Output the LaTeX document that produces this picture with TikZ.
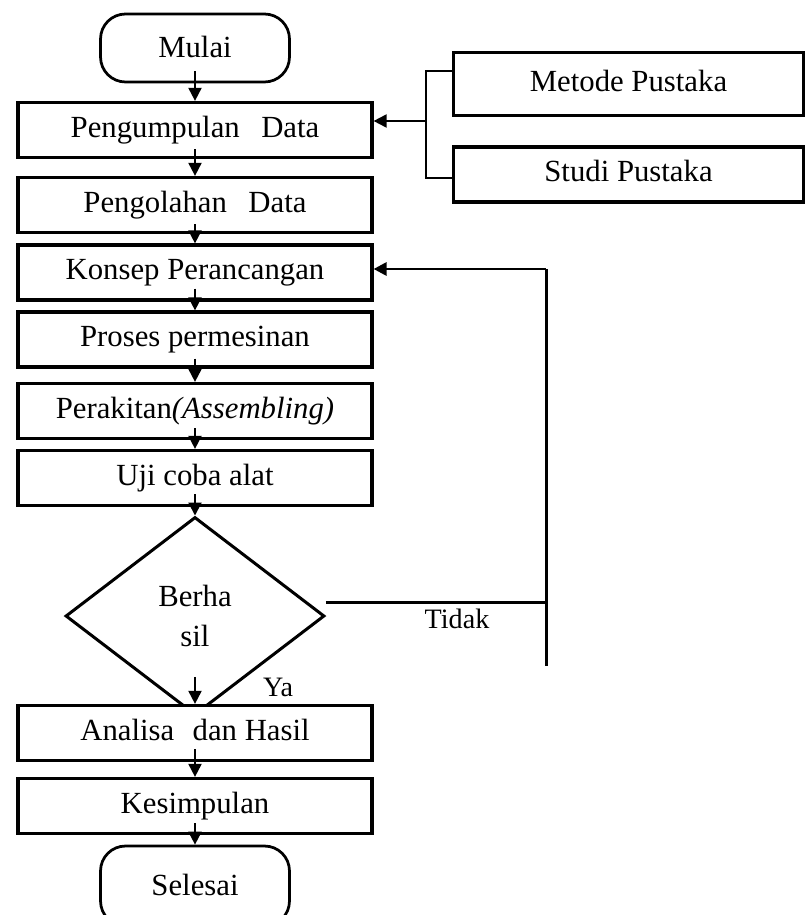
\documentclass[tikz,border=0pt]{standalone}
\usepackage{fontspec}
\setmainfont{Liberation Serif}
\usetikzlibrary{shapes.geometric,arrows.meta}

\begin{document}
\begin{tikzpicture}[x=0.02cm,y=-0.02cm,
    font=\fontsize{17.5}{23.3}\selectfont,
    box/.style={draw,fill=white,line width=0.065cm,inner sep=0pt,
      minimum width=7.08cm,minimum height=1.1cm,text height=0.8em,text depth=0pt},
    sidebox/.style={box,minimum width=7cm},
    terminal/.style={draw,fill=white,line width=0.055cm,rounded corners=0.5cm,
      minimum width=3.78cm,minimum height=1.36cm,text height=1.05em,text depth=0pt},
    decision/.style={draw,diamond,line width=0.06cm,inner sep=0pt,align=center,
      minimum width=5.18cm,minimum height=3.96cm},
    tag/.style={font=\fontsize{16}{19}\selectfont,inner sep=0pt,text height=0.8em,text depth=0pt},
    arr/.style={line width=0.04cm,-{Triangle[length=0.26cm,width=0.26cm]}},
    wire/.style={line width=0.06cm},
    thinwire/.style={line width=0.04cm}]
  \useasboundingbox (0,0) rectangle (811,915);

  % Marking start Mulai
  \node[terminal] (mulai) at (195,48) {Mulai};

  % Drawing box Pengumpulan Data
  \node[box] (kumpul) at (195,130) {Pengumpulan\hspace{0.7em}Data};

  % Drawing box Pengolahan Data
  \node[box] (olah) at (195,205) {Pengolahan\hspace{0.7em}Data};

  % Drawing box Konsep Perancangan
  \node[box] (konsep) at (195,272.5) {Konsep Perancangan};

  % Drawing box Proses permesinan
  \node[box] (proses) at (195,339.5) {Proses permesinan};

  % Drawing box Perakitan
  \node[box] (rakit) at (195,411) {Perakitan\textit{(Assembling)}};

  % Drawing box Uji coba alat
  \node[box] (uji) at (195,478) {Uji coba alat};

  % Drawing decision Berhasil
  \node[decision] (hasil) at (195,616) {Berha\\sil};

  % Drawing box Analisa dan Hasil (covers the lower tip of the decision)
  \node[box] (analisa) at (195,733) {Analisa\hspace{0.6em}dan Hasil};

  % Drawing box Kesimpulan
  \node[box] (simpul) at (195,806) {Kesimpulan};

  % Marking end Selesai (runs off the bottom edge)
  \node[terminal,minimum height=1.6cm] (selesai) at (195,886) {Selesai};

  % Drawing boxes Metode Pustaka and Studi Pustaka
  \node[sidebox,minimum height=1.26cm] (metode) at (628.5,84) {Metode Pustaka};
  \node[sidebox] (studi) at (628.5,174.5) {Studi Pustaka};

  % Drawing arrows down the main column
  \draw[arr] ([yshift=0.24cm]mulai.south) -- (kumpul.north);
  \draw[arr] ([yshift=0.2cm]kumpul.south) -- (olah.north);
  \draw[arr] ([yshift=0.2cm]olah.south) -- (konsep.north);
  \draw[arr] ([yshift=0.26cm]konsep.south) -- (proses.north);
  \draw[arr] ([yshift=0.2cm]proses.south) -- (rakit.north);
  \draw[arr] ([yshift=0.24cm]rakit.south) -- (uji.north);
  \draw[arr] ([yshift=0.26cm]uji.south) -- (hasil.north);
  \draw[arr] ([yshift=-1.22cm]hasil.center) -- (analisa.north);
  \draw[arr] ([yshift=0.26cm]analisa.south) -- (simpul.north);
  \draw[arr] ([yshift=0.24cm]simpul.south) -- (selesai.north);

  % Drawing bracket from Metode Pustaka and Studi Pustaka
  \coordinate (brace top) at (426,71);
  \coordinate (brace mid) at (426,121);
  \coordinate (brace bot) at (426,178);
  \draw[thinwire] (metode.west |- brace top) -- (brace top) -- (brace bot) -- (studi.west |- brace bot);
  \draw[arr] (brace mid) -- (brace mid -| kumpul.east);

  % Drawing loop back Tidak
  \coordinate (loop top) at (546,269);
  \coordinate (loop end) at (546,666);
  \path ([yshift=0.28cm]hasil.east) coordinate (tidak start);
  \draw[wire] (tidak start) -- (tidak start -| loop top);
  \draw[wire] (loop top) -- (loop end);
  \draw[wire,-{Triangle[length=0.26cm,width=0.26cm]}] (loop top) -- (loop top -| konsep.east);

  % Marking labels Tidak and Ya
  \node[tag] (tidak) at (457,621) {Tidak};
  \node[tag] (ya) at (278,689) {Ya};
\end{tikzpicture}
\end{document}
